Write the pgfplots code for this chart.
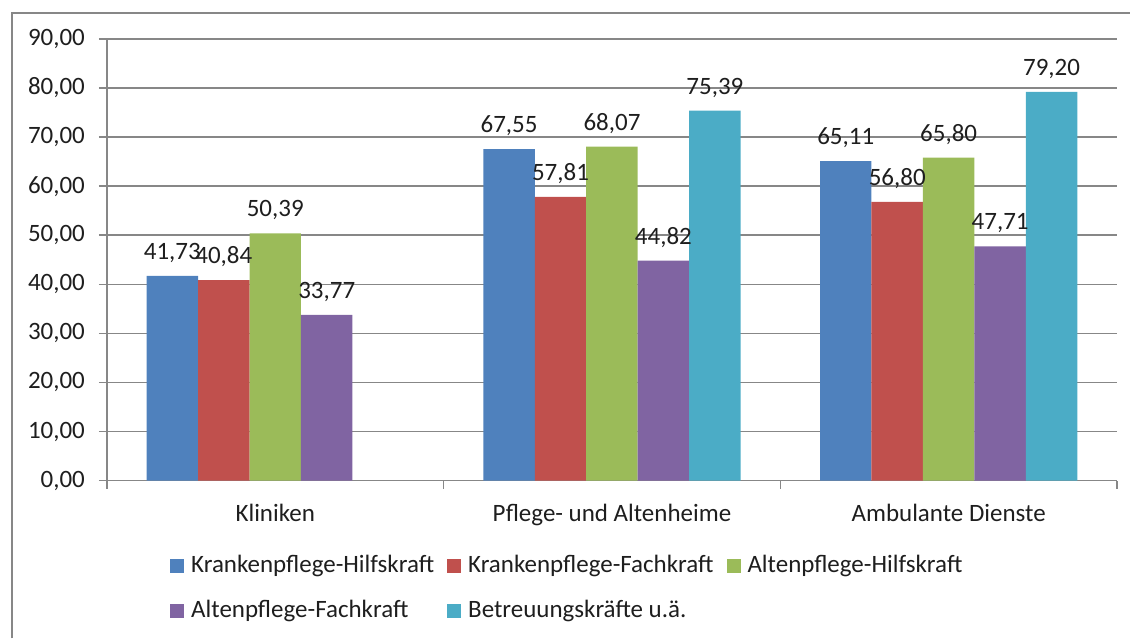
\documentclass[border=0pt]{standalone}
\usepackage{pgfplots}
\pgfplotsset{compat=1.18}
\usepackage{fontspec}
\setmainfont{Carlito}
\definecolor{c1}{HTML}{4F81BD}
\definecolor{c2}{HTML}{C0504D}
\definecolor{c3}{HTML}{9BBB59}
\definecolor{c4}{HTML}{8064A2}
\definecolor{c5}{HTML}{4BACC6}
\definecolor{gridc}{HTML}{878787}
\definecolor{txt}{HTML}{1E1E1E}
\newcommand{\chf}{\fontsize{12.5bp}{15bp}\selectfont}
\begin{document}
\begin{tikzpicture}
\begin{axis}[
  name=ax,
  scale only axis, width=505.5bp, height=221bp,
  ymin=0, ymax=90, ytick={0,10,...,90},
  xmin=-0.5, xmax=2.5,
  xtick={-0.5,0.5,1.5,2.5}, xticklabels={},
  extra x ticks={0,1,2},
  extra x tick labels={Kliniken, Pflege- und Altenheime, Ambulante Dienste},
  extra x tick style={major tick length=0pt, grid=none},
  axis x line*=bottom, axis y line*=left,
  axis line style={draw=gridc, line width=0.75bp, -},
  tick align=outside, major tick length=4bp,
  tick style={draw=gridc, line width=0.75bp},
  ymajorgrids, major grid style={draw=gridc, line width=0.75bp},
  ticklabel style={font=\chf, text=txt},
  yticklabel style={anchor=east, xshift=-3.5bp},
  xticklabel style={anchor=base, yshift=-20.5bp},
  /pgf/number format/.cd, fixed, fixed zerofill, precision=2, use comma, assume math mode=true,
  /pgfplots/.cd,
  ybar=0pt, bar width=25.75bp,
  nodes near coords,
  every node near coord/.append style={font=\chf, text=txt, anchor=base, yshift=8.25bp},
  legend image code/.code={\fill[#1] (0bp,0bp) rectangle (7bp,7bp);},
  legend columns=3,
  legend style={draw=none, fill=none, at={(axis description cs:0.0623,-0.1674)}, anchor=north west,
    inner xsep=0pt, inner ysep=0pt, font=\chf, text=txt, row sep=10.5bp,
    nodes={inner sep=0pt, text height=9bp, text depth=3bp, anchor=base west},
    /tikz/every odd column/.append style={column sep=3.5bp},
    /tikz/every even column/.append style={column sep=6.5bp}},
]
\addplot[fill=c1, draw=none] coordinates {(0,41.73) (1,67.55) (2,65.11)};
\addlegendentry{Krankenpflege-Hilfskraft}
\addplot[fill=c2, draw=none] coordinates {(0,40.84) (1,57.81) (2,56.80)};
\addlegendentry{Krankenpflege-Fachkraft}
\addplot[fill=c3, draw=none] coordinates {(0,50.39) (1,68.07) (2,65.80)};
\addlegendentry{Altenpflege-Hilfskraft}
\addplot[fill=c4, draw=none] coordinates {(0,33.77) (1,44.82) (2,47.71)};
\addlegendentry{Altenpflege-Fachkraft}
\addplot[fill=c5, draw=none] coordinates {(1,75.39) (2,79.20)};
\addlegendentry{Betreuungskräfte u.ä.}
\end{axis}
\path ([xshift=-53.5bp,yshift=19.5bp]ax.north west) rectangle ([xshift=6.5bp,yshift=-79bp]ax.south east);
\draw[gridc, line width=1bp] ([xshift=-47.5bp,yshift=-79bp]ax.south west) -- ([xshift=-47.5bp,yshift=13bp]ax.north west) -- ([xshift=6.5bp,yshift=13bp]ax.north east);
\end{tikzpicture}
\end{document}
